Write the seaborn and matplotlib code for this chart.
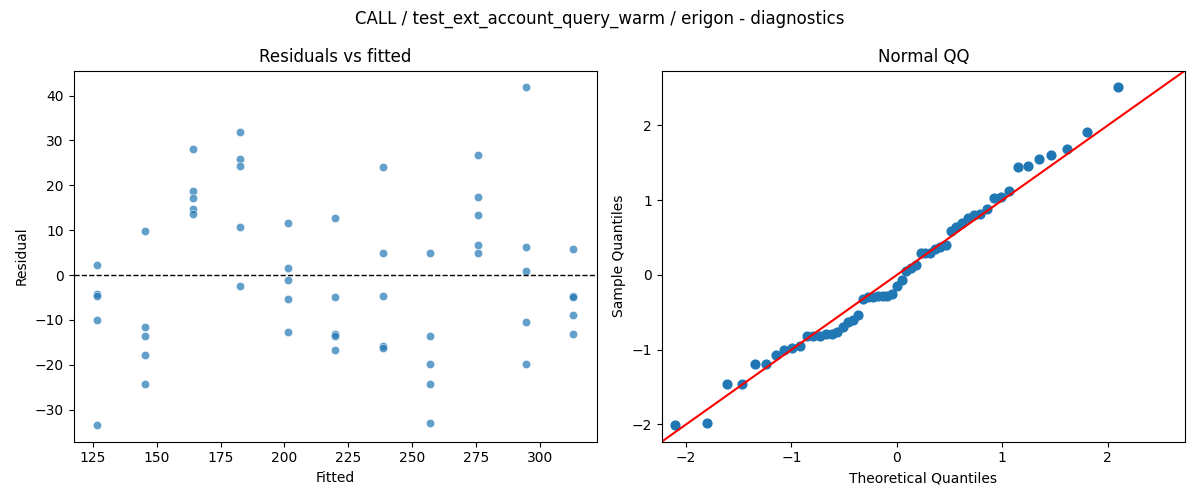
from statistics import NormalDist

import numpy as np
import pandas as pd
import matplotlib
matplotlib.use("Agg")
import matplotlib.pyplot as plt
import seaborn as sns

# fitted levels (one per group of 5 runs)
fitted_levels = [126.7, 145.3, 164.0, 182.6, 201.3, 219.9, 238.5, 257.2, 275.8, 294.5, 313.1]

# residuals, grouped by fitted level
resid_groups = [
    [2.2, -4.3, -4.7, -10.1, -33.4],
    [9.9, -11.6, -13.6, -17.8, -24.3],
    [28.1, 18.8, 17.2, 14.7, 13.5],
    [31.9, 25.9, 24.2, 10.6, -2.5],
    [11.7, 1.5, -1.2, -5.4, -12.7],
    [12.6, -5.0, -13.2, -13.6, -16.7],
    [24.0, 4.8, -4.7, -15.8, -16.2],
    [4.8, -13.6, -19.8, -24.3, -33.0],
    [26.8, 17.3, 13.3, 6.6, 4.8],
    [41.8, 6.2, 1.0, -10.5, -19.8],
    [5.7, -4.7, -4.8, -9.0, -13.2],
]

title = "CALL / test_ext_account_query_warm / erigon - diagnostics"

rows = []
for f, grp in zip(fitted_levels, resid_groups):
    for r in grp:
        rows.append({"fitted": f, "resid": r})
df = pd.DataFrame(rows)

# normal QQ of standardised residuals
std_resid = np.sort((df["resid"] - df["resid"].mean()) / df["resid"].std(ddof=0))
n = len(std_resid)
theo = [NormalDist().inv_cdf(i / (n + 1)) for i in range(1, n + 1)]
qq = pd.DataFrame({"theoretical": theo, "sample": std_resid})

fig, (ax1, ax2) = plt.subplots(1, 2, figsize=(12, 5), dpi=100)

sns.scatterplot(data=df, x="fitted", y="resid", alpha=0.7, ax=ax1)
ax1.axhline(0, color="black", linestyle="--", linewidth=1)
ax1.set_title("Residuals vs fitted")
ax1.set_xlabel("Fitted")
ax1.set_ylabel("Residual")

sns.scatterplot(data=qq, x="theoretical", y="sample", s=40, linewidth=1,
                color="#1f77b4", edgecolor="#1f77b4", ax=ax2)
lims = ax2.get_ylim()
ax2.plot(lims, lims, color="red", linewidth=1.5)
ax2.set_xlim(lims)
ax2.set_ylim(lims)
ax2.set_title("Normal QQ")
ax2.set_xlabel("Theoretical Quantiles")
ax2.set_ylabel("Sample Quantiles")

fig.suptitle(title)
fig.tight_layout()
fig.savefig("out.png")
